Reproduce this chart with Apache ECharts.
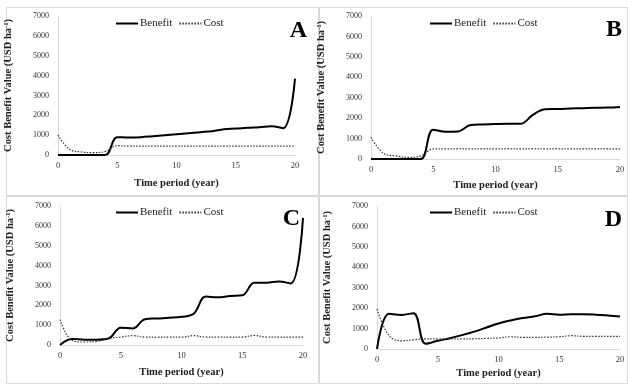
<!DOCTYPE html>
<html>
<head>
<meta charset="utf-8">
<script src="https://cdn.jsdelivr.net/npm/echarts@6/dist/echarts.min.js"></script>
<style>
  html, body { margin: 0; padding: 0; background: #fff; }
  #chart { width: 628px; height: 385px; }
</style>
</head>
<body>
<div id="chart"></div>
<script>
// years on the x axis
const years = [0, 1, 2, 3, 4, 5, 6, 7, 8, 9, 10, 11, 12, 13, 14, 15, 16, 17, 18, 19, 20];
const xTicks = [0, 5, 10, 15, 20];
const yTicks = [0, 1000, 2000, 3000, 4000, 5000, 6000, 7000];
const panelNames = ["A", "B", "C", "D"];

// panel A
const benefitA = [0, 0, 0, 0, 0, 900, 880, 900, 950, 1000, 1050, 1100, 1150, 1200, 1300, 1330, 1370, 1400, 1450, 1350, 3850];
const costA = [1000, 280, 150, 120, 180, 470, 450, 450, 450, 450, 450, 450, 450, 450, 450, 450, 450, 450, 450, 450, 450];
// panel B
const benefitB = [0, 0, 0, 0, 0, 1430, 1330, 1350, 1660, 1690, 1710, 1720, 1720, 2160, 2440, 2450, 2470, 2490, 2510, 2520, 2550];
const costB = [1060, 280, 150, 80, 150, 490, 500, 500, 500, 500, 500, 500, 500, 500, 500, 500, 500, 500, 500, 500, 500];
// panel C
const benefitC = [0, 300, 270, 270, 330, 870, 835, 1300, 1340, 1370, 1420, 1570, 2440, 2400, 2470, 2500, 3140, 3140, 3200, 3100, 6400];
const costC = [1280, 230, 150, 180, 330, 400, 470, 400, 400, 400, 400, 470, 400, 400, 400, 400, 480, 400, 400, 400, 400];
// panel D
const benefitD = [0, 1720, 1670, 1750, 260, 400, 530, 680, 850, 1050, 1250, 1400, 1520, 1600, 1720, 1680, 1700, 1700, 1680, 1640, 1590];
const costD = [1950, 650, 400, 450, 500, 500, 500, 500, 500, 520, 540, 600, 570, 570, 580, 600, 650, 620, 620, 620, 620];

const benefits = [benefitA, benefitB, benefitC, benefitD];
const costs = [costA, costB, costC, costD];

const FONT = "Liberation Serif";

// layout of each panel (px)
const grids = [
  { left: 58, top: 16, width: 237, height: 139, legendLeft: 110, legendTop: 13, nameGap: 23, letter: [307, 31] },
  { left: 371, top: 16, width: 249, height: 143, legendLeft: 424, legendTop: 13, nameGap: 21, letter: [622, 30] },
  { left: 60, top: 206, width: 243, height: 139, legendLeft: 110, legendTop: 202, nameGap: 22, letter: [300, 219] },
  { left: 377, top: 206, width: 243, height: 143, legendLeft: 424, legendTop: 202, nameGap: 19, letter: [622, 220] }
];
const boxes = [
  [6, 7, 312, 188],
  [319, 7, 308, 188],
  [6, 196, 312, 187],
  [319, 196, 308, 187]
];

const chart = echarts.init(document.getElementById("chart"), null, { renderer: "canvas" });

const option = {
  animation: false,
  backgroundColor: "#fff",
  textStyle: { fontFamily: FONT },
  grid: grids.map(g => ({ left: g.left, top: g.top, width: g.width, height: g.height })),
  legend: grids.map((g, i) => ({
    left: g.legendLeft,
    top: g.legendTop,
    itemWidth: 22,
    itemHeight: 10,
    itemGap: 6,
    itemStyle: { opacity: 0 },
    textStyle: { fontFamily: FONT, fontSize: 11, color: "#222", padding: [0, 0, 0, -3] },
    data: ["Benefit" + i, "Cost" + i],
    formatter: name => name.replace(/\d$/, "")
  })),
  xAxis: grids.map((g, i) => ({
    type: "value",
    gridIndex: i,
    min: 0,
    max: 20,
    interval: 5,
    name: "Time period (year)",
    nameLocation: "middle",
    nameGap: g.nameGap,
    nameTextStyle: { fontFamily: FONT, fontWeight: "bold", fontSize: 10.5, color: "#222" },
    axisLine: { show: true, lineStyle: { color: "#d9d9d9", width: 1 } },
    axisTick: { show: false },
    splitLine: { show: false },
    axisLabel: {
      margin: 6,
      fontSize: 8.5,
      color: "#333",
      fontFamily: FONT,
      customValues: xTicks
    }
  })),
  yAxis: grids.map((g, i) => ({
    type: "value",
    gridIndex: i,
    min: 0,
    max: 7000,
    interval: 1000,
    name: "Cost Benefit Value (USD ha{sup|-1})",
    nameLocation: "middle",
    nameRotate: 90,
    nameGap: 44,
    nameTextStyle: {
      fontFamily: FONT,
      fontWeight: "bold",
      fontSize: 10.5,
      color: "#222",
      rich: {
        sup: { fontFamily: FONT, fontWeight: "bold", fontSize: 6.5, color: "#222", verticalAlign: "top", padding: [0, 0, 4, 0] }
      }
    },
    axisLine: { show: true, lineStyle: { color: "#d9d9d9", width: 1 } },
    axisTick: { show: false },
    splitLine: { show: false },
    axisLabel: {
      margin: 9,
      fontSize: 8,
      color: "#333",
      fontFamily: FONT,
      customValues: yTicks,
      formatter: v => String(v)
    }
  })),
  series: [],
  graphic: []
};

benefits.forEach((b, i) => {
  option.series.push({
    name: "Benefit" + i,
    type: "line",
    xAxisIndex: i,
    yAxisIndex: i,
    smooth: 0.4,
    symbol: "none",
    lineStyle: { color: "#000", width: 2 },
    itemStyle: { color: "#000" },
    data: years.map((y, k) => [y, b[k]])
  });
  option.series.push({
    name: "Cost" + i,
    type: "line",
    xAxisIndex: i,
    yAxisIndex: i,
    smooth: 0.4,
    symbol: "none",
    lineStyle: { color: "#333", width: 1.2, type: [1.5, 1.5] },
    itemStyle: { color: "#333" },
    data: years.map((y, k) => [y, costs[i][k]])
  });
});

// panel frames
boxes.forEach(b => {
  option.graphic.push({
    type: "rect",
    silent: true,
    shape: { x: b[0] + 0.5, y: b[1] + 0.5, width: b[2], height: b[3] },
    style: { fill: null, stroke: "#d9d9d9", lineWidth: 1 }
  });
});

// panel letters
grids.forEach((g, i) => {
  option.graphic.push({
    type: "text",
    silent: true,
    x: g.letter[0],
    y: g.letter[1],
    style: {
      text: panelNames[i],
      font: "bold 24px " + FONT,
      fill: "#000",
      align: "right",
      verticalAlign: "middle"
    }
  });
});

chart.setOption(option);
</script>
</body>
</html>
